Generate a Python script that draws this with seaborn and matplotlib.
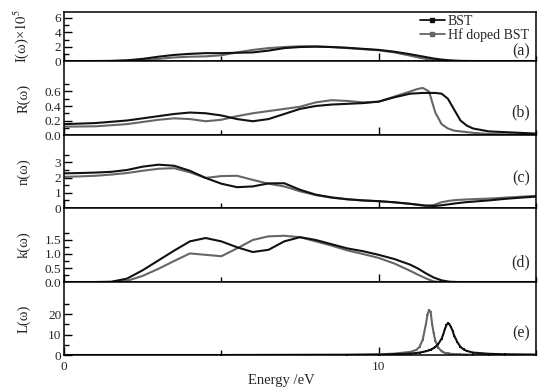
import numpy as np
import pandas as pd
import matplotlib
matplotlib.use('Agg')
import matplotlib.pyplot as plt
from matplotlib.ticker import FixedLocator, MultipleLocator, FormatStrFormatter
from matplotlib.lines import Line2D
import seaborn as sns

# common energy grid for I, n, k (eV)
energy = [0, 0.5, 1, 1.5, 2, 2.5, 3, 3.5, 4, 4.5, 5, 5.5, 6, 6.5, 7, 7.5, 8, 8.5,
          9, 9.5, 10, 10.5, 11, 11.25, 11.5, 11.75, 12, 12.25, 12.5, 12.75, 13,
          13.5, 14, 14.5, 15]

abs_bst = [0, 0, 0, 0.02, 0.1, 0.3, 0.6, 0.85, 1.0, 1.1, 1.1, 1.15, 1.2, 1.45, 1.8,
           1.95, 2.0, 1.95, 1.85, 1.7, 1.55, 1.3, 0.95, 0.75, 0.55, 0.35, 0.2, 0.1,
           0.04, 0.01, 0, 0, 0, 0, 0]
abs_hf = [0, 0, 0, 0, 0.03, 0.12, 0.3, 0.5, 0.6, 0.65, 0.8, 1.2, 1.55, 1.8, 1.95,
          2.05, 2.05, 1.95, 1.8, 1.65, 1.5, 1.2, 0.75, 0.5, 0.3, 0.12, 0.04, 0.01,
          0, 0, 0, 0, 0, 0, 0]

n_bst = [2.28, 2.3, 2.33, 2.38, 2.5, 2.72, 2.85, 2.78, 2.45, 1.98, 1.6, 1.37, 1.42,
         1.62, 1.63, 1.2, 0.88, 0.7, 0.58, 0.5, 0.45, 0.38, 0.28, 0.22, 0.16, 0.13,
         0.18, 0.25, 0.32, 0.38, 0.42, 0.5, 0.6, 0.68, 0.75]
n_hf = [2.05, 2.08, 2.12, 2.2, 2.3, 2.45, 2.58, 2.62, 2.35, 1.98, 2.1, 2.12, 1.85,
        1.6, 1.42, 1.1, 0.85, 0.68, 0.57, 0.5, 0.45, 0.37, 0.27, 0.2, 0.14, 0.2,
        0.38, 0.48, 0.53, 0.56, 0.58, 0.62, 0.68, 0.74, 0.8]

k_bst = [0, 0, 0, 0.01, 0.12, 0.42, 0.77, 1.12, 1.45, 1.57, 1.45, 1.24, 1.07, 1.15,
         1.45, 1.6, 1.5, 1.35, 1.2, 1.1, 0.97, 0.82, 0.62, 0.48, 0.31, 0.16, 0.06,
         0.01, 0, 0, 0, 0, 0, 0, 0]
k_hf = [0, 0, 0, 0, 0.04, 0.22, 0.47, 0.75, 1.02, 0.97, 0.92, 1.2, 1.5, 1.63, 1.65,
        1.6, 1.45, 1.3, 1.13, 1.0, 0.86, 0.66, 0.4, 0.26, 0.13, 0.02, 0, 0, 0, 0,
        0, 0, 0, 0, 0]

# reflectivity
energy_r = [0, 1, 2, 3, 3.5, 4, 4.5, 5, 5.5, 6, 6.5, 7, 7.5, 8, 8.5, 9, 9.5, 10,
            10.5, 11, 11.2, 11.4, 11.6, 11.8, 12.0, 12.2, 12.4, 12.6, 12.8, 13.0,
            13.5, 14, 14.5, 15]
r_bst = [0.15, 0.165, 0.2, 0.26, 0.29, 0.31, 0.3, 0.27, 0.22, 0.19, 0.22, 0.29,
         0.36, 0.4, 0.42, 0.43, 0.44, 0.46, 0.52, 0.57, 0.575, 0.58, 0.58, 0.58,
         0.57, 0.5, 0.35, 0.2, 0.13, 0.09, 0.05, 0.04, 0.03, 0.02]
r_hf = [0.115, 0.12, 0.15, 0.21, 0.23, 0.22, 0.19, 0.21, 0.26, 0.3, 0.33, 0.36,
        0.39, 0.45, 0.48, 0.47, 0.45, 0.46, 0.53, 0.6, 0.63, 0.65, 0.6, 0.31, 0.15,
        0.09, 0.06, 0.05, 0.04, 0.03, 0.015, 0.01, 0.01, 0.01]

# energy loss
energy_l = [0, 5, 9, 10, 10.5, 11, 11.2, 11.3, 11.4, 11.5, 11.55, 11.6, 11.65, 11.7,
            11.75, 11.8, 11.9, 12.0, 12.05, 12.1, 12.15, 12.2, 12.25, 12.3, 12.35,
            12.4, 12.5, 12.6, 12.7, 12.8, 13, 13.5, 14, 15]
l_bst = [0, 0, 0.1, 0.2, 0.4, 0.7, 1.0, 1.2, 1.5, 1.8, 2.0, 2.3, 2.6, 3.0, 3.4, 3.9,
         5.5, 8, 10, 12.5, 14.5, 15.5, 15, 13.5, 11.8, 9.5, 6.3, 4, 2.7, 2, 1.2,
         0.6, 0.35, 0.2]
l_hf = [0, 0, 0.1, 0.3, 0.7, 1.5, 2.5, 4, 7.5, 15, 19.5, 22, 21, 15, 10.5, 7, 3.5,
        1.8, 1.4, 1.1, 0.9, 0.8, 0.7, 0.6, 0.5, 0.45, 0.35, 0.3, 0.25, 0.2, 0.15,
        0.1, 0.05, 0.02]

series_names = ['BST', 'Hf doped BST']
panel_tags = ['(a)', '(b)', '(c)', '(d)', '(e)']

sns.set_style('ticks')
plt.rcParams['font.family'] = ['Liberation Serif', 'DejaVu Serif']
plt.rcParams['mathtext.fontset'] = 'stix'

c_bst = '#111111'
c_hf = '#666666'

fig, axes = plt.subplots(5, 1, sharex=True, figsize=(5.45, 3.88), dpi=100,
                         gridspec_kw={'height_ratios': [49, 74, 73, 74, 73], 'hspace': 0})
fig.subplots_adjust(left=0.1174, right=0.9835, top=0.969, bottom=0.085)

panels = [
    (energy, abs_bst, abs_hf, 'I(ω)×$10^5$', (0, 6.83), [0, 2, 4, 6], [1, 3, 5], '%d', 0.19),
    (energy_r, r_bst, r_hf, 'R(ω)', (0, 1.02), [0, 0.2, 0.4, 0.6], [0.1, 0.3, 0.5, 0.7], '%.1f', 0.31),
    (energy, n_bst, n_hf, 'n(ω)', (0, 4.8), [0, 1, 2, 3], [0.5, 1.5, 2.5, 3.5], '%d', 0.41),
    (energy, k_bst, k_hf, 'k(ω)', (0, 2.64), [0, 0.5, 1.0, 1.5], [0.25, 0.75, 1.25, 1.75], '%.1f', 0.27),
    (energy_l, l_bst, l_hf, 'L(ω)', (0, 35.6), [0, 10, 20], [5, 15, 25], '%d', 0.30),
]

for i, (ax, (x, yb, yh, lab, ylim, maj, mnr, fmt, tag_y)) in enumerate(zip(axes, panels)):
    df = pd.DataFrame({'E': x, series_names[0]: yb, series_names[1]: yh})
    mk = 's' if i == 4 else None
    sns.lineplot(data=df, x='E', y=series_names[1], ax=ax, color=c_hf, lw=1.5,
                 marker=mk, markersize=1.8, markeredgewidth=0)
    sns.lineplot(data=df, x='E', y=series_names[0], ax=ax, color=c_bst, lw=1.5,
                 marker=mk, markersize=1.8, markeredgewidth=0)
    ax.set_ylim(*ylim)
    ax.set_xlim(0, 15)
    ax.yaxis.set_major_locator(FixedLocator(maj))
    ax.yaxis.set_minor_locator(FixedLocator(mnr))
    ax.yaxis.set_major_formatter(FormatStrFormatter(fmt))
    ax.xaxis.set_major_locator(MultipleLocator(10))
    ax.xaxis.set_minor_locator(MultipleLocator(5))
    ax.tick_params(which='both', direction='in', color='black', width=1.0,
                   labelsize=9.5, pad=2)
    ax.tick_params(which='major', length=6)
    ax.tick_params(which='minor', length=3.5)
    for sp in ax.spines.values():
        sp.set_color('black')
        sp.set_linewidth(1.1)
    ax.set_ylabel(lab, fontsize=10.5)
    ax.yaxis.set_label_coords(-0.07, 0.5)
    ax.set_xlabel('')
    ax.text(0.988, tag_y, panel_tags[i], transform=ax.transAxes, ha='right',
            va='center', fontsize=11.5)

axes[-1].set_xlabel('Energy /eV', fontsize=10.5, labelpad=2)
axes[-1].xaxis.set_label_coords(0.46, -0.26)
axes[-1].tick_params(axis='x', pad=4)

handles = [Line2D([], [], color=c_bst, lw=1.3, marker='s', markersize=3),
           Line2D([], [], color=c_hf, lw=1.3, marker='s', markersize=2.5)]
axes[0].legend(handles, series_names, loc='upper right', bbox_to_anchor=(0.99, 1.0),
               frameon=False, fontsize=10, labelspacing=0.05, handlelength=1.8,
               handletextpad=0.2, borderpad=0.1, borderaxespad=0.1)

fig.savefig('out.png', dpi=100)
